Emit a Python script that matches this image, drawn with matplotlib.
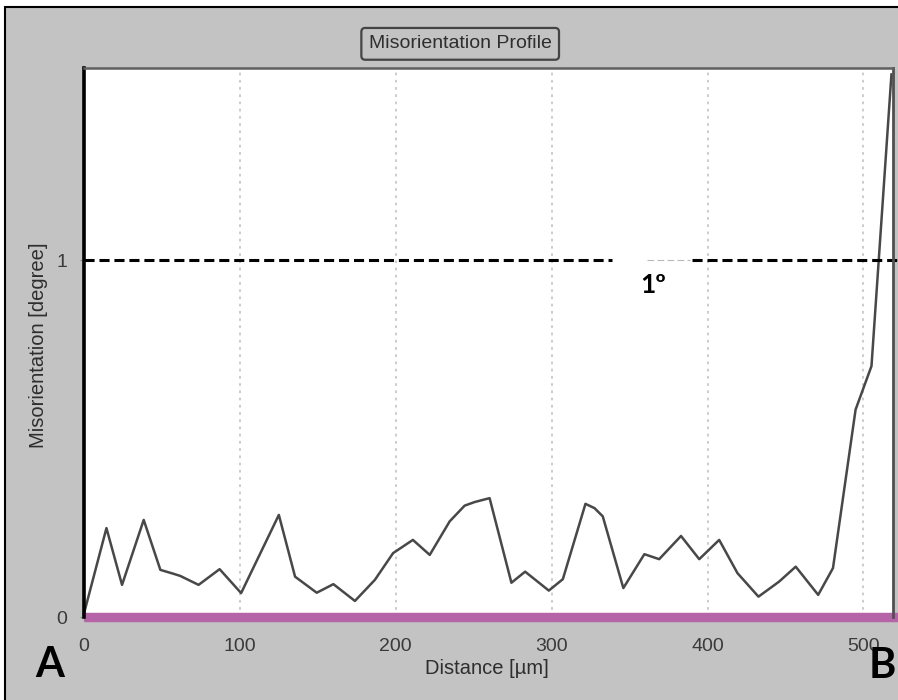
import matplotlib
matplotlib.use("Agg")
import matplotlib.pyplot as plt
from matplotlib.patches import Rectangle

# ---- data ----
distance_um = [0, 14.4, 24.4, 38.3, 49, 57.5, 61.8, 73.5, 87, 100.8, 125, 135.4,
               149.3, 160, 173.8, 186.6, 198.3, 211, 221.8, 234.6, 244.2, 250.6,
               260.2, 274.2, 283, 298.2, 307.2, 321.7, 327.5, 332.8, 346, 359.5,
               369, 383, 394.7, 407.5, 419.2, 432.7, 445.9, 456.6, 471, 480.5,
               495, 505.2, 518]
misorientation_deg = [0.01, 0.249, 0.09, 0.272, 0.132, 0.121, 0.115, 0.09, 0.134,
                      0.067, 0.286, 0.113, 0.068, 0.092, 0.045, 0.104, 0.179,
                      0.216, 0.174, 0.268, 0.312, 0.322, 0.333, 0.096, 0.127,
                      0.074, 0.106, 0.317, 0.305, 0.282, 0.081, 0.176, 0.162,
                      0.227, 0.162, 0.216, 0.123, 0.057, 0.099, 0.141, 0.062,
                      0.137, 0.581, 0.703, 1.52]
x_ticks = [0, 100, 200, 300, 400, 500]
y_ticks = [0, 1]
threshold_deg = 1.0

GRAY_BG = "#c3c3c3"
PINK = "#b565a7"
TICK_FONT = ["Liberation Sans", "DejaVu Sans"]
BOLD_FONT = ["Lato", "DejaVu Sans"]

fig = plt.figure(figsize=(8.98, 7.00), dpi=100)
fig.patch.set_facecolor("white")
# gray panel with black frame
fig.patches.append(Rectangle((5 / 898, -0.02), 1.02, 1 - 7 / 700 + 0.02,
                             transform=fig.transFigure, facecolor=GRAY_BG,
                             edgecolor="black", linewidth=1.5, zorder=-10))

ax = fig.add_axes([84 / 898, 83 / 700, 809 / 898, 549 / 700])
ax.set_zorder(1)
ax.set_facecolor("white")
ax.set_xlim(0, 519)
ax.set_ylim(0, 1.538)

# vertical dotted grid
ax.set_xticks(x_ticks)
ax.set_yticks(y_ticks)
ax.xaxis.grid(True, linestyle=(0, (1.5, 2.5)), color="#c8c8c8", linewidth=1.3)
ax.yaxis.grid(False)

# profile line
ax.plot(distance_um, misorientation_deg, color="#484848", linewidth=1.8, zorder=3,
        clip_on=False)

# 1-degree dashed threshold (with gap around label)
dash = (0, (3.3, 1.6))
ax.plot([0, 339], [threshold_deg, threshold_deg], color="black", linewidth=2.2,
        linestyle=dash, zorder=4)
ax.plot([390, 523], [threshold_deg, threshold_deg], color="black", linewidth=2.2,
        linestyle=dash, zorder=4, clip_on=False)
ax.plot([361, 389], [threshold_deg, threshold_deg], color="#b8b8b8", linewidth=0.8,
        linestyle=(0, (6, 3)), zorder=4)
ax.text(365, 0.93, "1º", family=BOLD_FONT, fontweight="bold", fontsize=19,
        ha="center", va="center", color="black")

# pink base bar
ax.plot([0, 1.01], [0, 0], transform=ax.get_yaxis_transform(), color=PINK,
        linewidth=6.8, solid_capstyle="butt", clip_on=False, zorder=5)

# spines
for s in ax.spines.values():
    s.set_zorder(6)
ax.spines["left"].set_color("black")
ax.spines["left"].set_linewidth(2.6)
ax.spines["top"].set_color("#606060")
ax.spines["top"].set_linewidth(1.8)
ax.spines["right"].set_color("#505050")
ax.spines["right"].set_linewidth(2.0)
ax.spines["bottom"].set_visible(False)

ax.tick_params(axis="both", length=3, width=0.8, color="#888888",
               labelcolor="#3a3a3a", labelsize=14)
ax.tick_params(axis="x", pad=12)
ax.tick_params(axis="y", pad=9)
for lab in ax.get_xticklabels() + ax.get_yticklabels():
    lab.set_family(TICK_FONT)

ax.set_xlabel("Distance [µm]", family=TICK_FONT, fontsize=14.5, color="#2e2e2e")
ax.xaxis.set_label_coords(0.498, -0.076)
ax.set_ylabel("Misorientation [degree]", family=TICK_FONT, fontsize=14.5,
              color="#2e2e2e")
ax.yaxis.set_label_coords(-0.044, 0.495)

# title box
ax.text(0.465, 1.044, "Misorientation Profile", transform=ax.transAxes,
        family=TICK_FONT, fontsize=14, color="#2e2e2e", ha="center", va="center",
        bbox=dict(boxstyle="round,pad=0.38,rounding_size=0.2", facecolor=GRAY_BG,
                  edgecolor="#444444", linewidth=1.6))

# A / B end markers
fig.text(35 / 898, 1 - 677 / 700, "A", family=BOLD_FONT, fontweight="bold",
         fontsize=30, ha="left", va="baseline", color="black")
fig.text(869 / 898, 1 - 678 / 700, "B", family=BOLD_FONT, fontweight="bold",
         fontsize=30, ha="left", va="baseline", color="black")

fig.savefig("out.png", dpi=100, facecolor=fig.get_facecolor())
